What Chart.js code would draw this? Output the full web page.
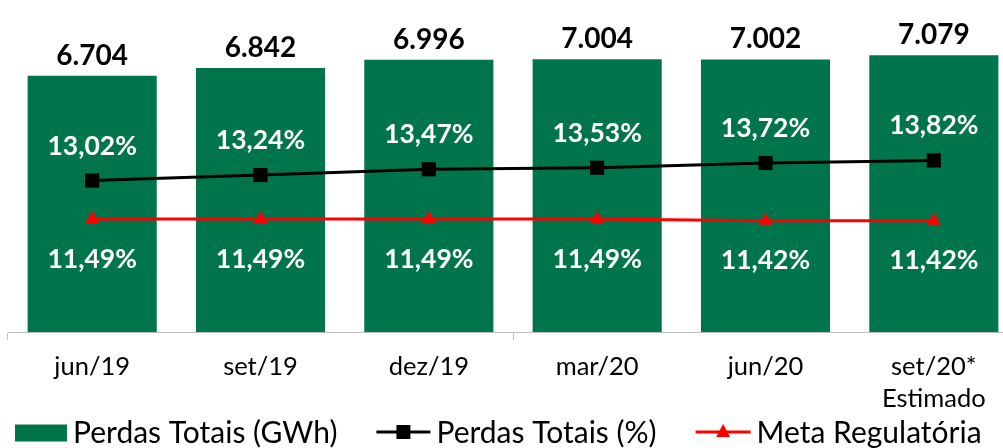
<!DOCTYPE html>
<html><head><meta charset="utf-8">
<script src="https://cdn.jsdelivr.net/npm/chart.js@4.4.0/dist/chart.umd.min.js"></script>
<style>
html,body{margin:0;padding:0;background:#fff;overflow:hidden;width:1003px;height:448px}
#clip{position:relative;width:1003px;height:448px;overflow:hidden}
#wrap{position:absolute;left:0;top:0;width:1018px;height:448px}
</style></head>
<body><div id="clip"><div id="wrap"><canvas id="c" width="1018" height="448"></canvas></div></div>
<script>
const categories = [['jun/19'], ['set/19'], ['dez/19'], ['mar/20'], ['jun/20'], ['set/20*', 'Estimado']];
const perdasGWh = [6704, 6842, 6996, 7004, 7002, 7079];
const perdasPct = [13.02, 13.24, 13.47, 13.53, 13.72, 13.82];
const metaPct = [11.49, 11.49, 11.49, 11.49, 11.42, 11.42];
const seriesNames = ['Perdas Totais (GWh)', 'Perdas Totais (%)', 'Meta Regulatória'];

const GREEN = '#00754B';
const RED = '#FF0000';
const FONT = 'Lato';

const fmtInt = v => String(v).replace(/\B(?=(\d{3})+(?!\d))/g, '.');
const fmtPct = v => v.toFixed(2).replace('.', ',') + '%';

const labelsPlugin = {
  id: 'valueLabels',
  afterDatasetsDraw(chart) {
    const ctx = chart.ctx;
    ctx.save();
    ctx.textAlign = 'center';
    ctx.textBaseline = 'alphabetic';
    let size = 28;
    ctx.font = `bold ${size}px ${FONT}`;
    chart.getDatasetMeta(0).data.forEach((bar, i) => {
      ctx.fillStyle = '#000';
      ctx.fillText(fmtInt(perdasGWh[i]), bar.x, bar.y - 21 + 0.36 * size);
    });
    size = 26.5;
    ctx.font = `bold ${size}px ${FONT}`;
    chart.getDatasetMeta(1).data.forEach((pt, i) => {
      ctx.fillStyle = '#fff';
      ctx.fillText(fmtPct(perdasPct[i]), pt.x, pt.y - 35.5 + 0.36 * size);
    });
    chart.getDatasetMeta(2).data.forEach((pt, i) => {
      ctx.fillStyle = '#fff';
      ctx.fillText(fmtPct(metaPct[i]), pt.x, pt.y + 39 + 0.36 * size);
    });
    ctx.restore();
  }
};

const legendPlugin = {
  id: 'customLegend',
  afterDraw(chart) {
    const ctx = chart.ctx;
    ctx.save();
    const size = 30;
    ctx.font = `${size}px ${FONT}`;
    ctx.textBaseline = 'alphabetic';
    ctx.textAlign = 'left';
    const yMid = 432;
    let x = 15;
    const symW = [52, 54, 55];
    seriesNames.forEach((name, i) => {
      const w = symW[i];
      if (i === 0) {
        ctx.fillStyle = GREEN;
        ctx.fillRect(x, yMid - 7.5, w, 17);
      } else {
        const col = i === 1 ? '#000' : RED;
        ctx.strokeStyle = col;
        ctx.lineWidth = 3;
        ctx.beginPath();
        ctx.moveTo(x, yMid);
        ctx.lineTo(x + w, yMid);
        ctx.stroke();
        ctx.fillStyle = col;
        const cx = x + w / 2;
        if (i === 1) {
          ctx.fillRect(cx - 7, yMid - 7, 14, 14);
        } else {
          ctx.beginPath();
          ctx.moveTo(cx, yMid - 8);
          ctx.lineTo(cx + 7, yMid + 5);
          ctx.lineTo(cx - 7, yMid + 5);
          ctx.closePath();
          ctx.fill();
        }
      }
      x += w + 6;
      ctx.fillStyle = '#000';
      ctx.fillText(name, x, yMid + 0.36 * size);
      x += ctx.measureText(name).width + 39;
    });
    ctx.restore();
  }
};

new Chart(document.getElementById('c'), {
  data: {
    labels: categories,
    datasets: [
      { type: 'bar', label: seriesNames[0], data: perdasGWh, yAxisID: 'y',
        backgroundColor: GREEN, borderWidth: 0, barPercentage: 0.767, categoryPercentage: 1, order: 3 },
      { type: 'line', label: seriesNames[1], data: perdasPct, yAxisID: 'y2',
        borderColor: '#000', borderWidth: 3, pointStyle: 'rect', pointRadius: 10,
        pointBackgroundColor: '#000', pointBorderWidth: 0, order: 1 },
      { type: 'line', label: seriesNames[2], data: metaPct, yAxisID: 'y2',
        borderColor: RED, borderWidth: 3, pointStyle: 'triangle', pointRadius: 8,
        pointBackgroundColor: RED, pointBorderWidth: 0, order: 2 }
    ]
  },
  options: {
    responsive: false,
    animation: false,
    devicePixelRatio: 1,
    layout: { autoPadding: false, padding: { left: 8, right: 0, top: 5, bottom: 22 } },
    plugins: { legend: { display: false }, tooltip: { enabled: false } },
    scales: {
      x: {
        offset: true,
        grid: { offset: true, drawOnChartArea: false, tickLength: 8, lineWidth: 1,
                color: c => (c.index !== undefined && c.index % 3 === 0) ? '#BFBFBF' : 'rgba(0,0,0,0)' },
        border: { color: '#BFBFBF', width: 1 },
        ticks: { color: '#000', font: { family: FONT, size: 25.5, lineHeight: '32px' }, padding: 11, maxRotation: 0, autoSkip: false }
      },
      y: { display: false, min: 2000, max: 8000 },
      y2: { display: false, min: 7, max: 20 }
    }
  },
  plugins: [labelsPlugin, legendPlugin]
});
</script>
</body></html>
